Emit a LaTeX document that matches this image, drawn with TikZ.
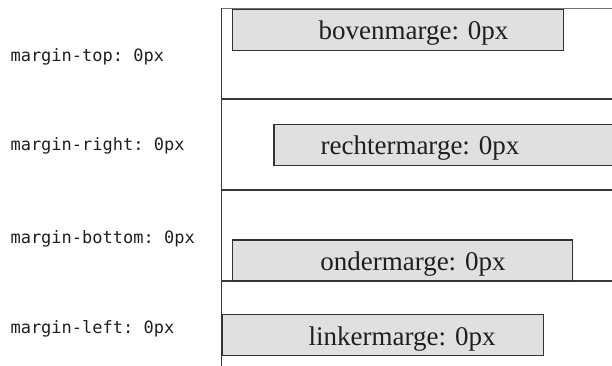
\documentclass[tikz,border=0pt]{standalone}
\usepackage{fontspec}
\setmainfont{Liberation Serif}
\setmonofont{DejaVu Sans Mono}

\begin{document}
\begin{tikzpicture}[x=1pt, y=-1pt,
    box/.style={rectangle, draw=black!80, fill=black!12, line width=1.1pt, inner sep=0pt},
    boxtext/.style={anchor=base, font=\fontsize{27}{30}\selectfont, text=black!88},
    prop/.style={anchor=base west, font=\ttfamily\fontsize{17}{20}\selectfont, text=black!88},
    rule/.style={draw=black!78, line width=1.1pt}]

    \useasboundingbox (0,0) rectangle (612,366);

    % column with its four rows
    \draw[rule] (221.5,8.5) -- (221.5,366);
    \draw[rule, black!55] (221.5,8.5) -- (612,8.5);
    \foreach \y in {99,190,281}
        \draw[rule] (221.5,\y) -- (612,\y);

    % CSS properties
    \node[prop] (top) at (7,61.7) {margin-top: 0px};
    \node[prop] (right) at (7,150.7) {margin-right: 0px};
    \node[prop] (bottom) at (7,243) {margin-bottom: 0px};
    \node[prop] (left) at (7,333.7) {margin-left: 0px};

    % Boxes
    \node[box, minimum width=331, minimum height=41] (boven) at (398,30) {};
    \node[box, minimum width=342, minimum height=41] (rechter) at (445,145) {};
    \node[box, minimum width=340, minimum height=40.5] (onder) at (402.5,260.25) {};
    \node[box, minimum width=321.5, minimum height=41] (linker) at (382.75,335) {};

    % Box labels
    \node[boxtext] (bovenText) at (413.5,40) {bovenmarge: 0px};
    \node[boxtext] (rechterText) at (420,155) {rechtermarge: 0px};
    \node[boxtext] (onderText) at (413,270) {ondermarge: 0px};
    \node[boxtext] (linkerText) at (402,345.3) {linkermarge: 0px};
\end{tikzpicture}
\end{document}
